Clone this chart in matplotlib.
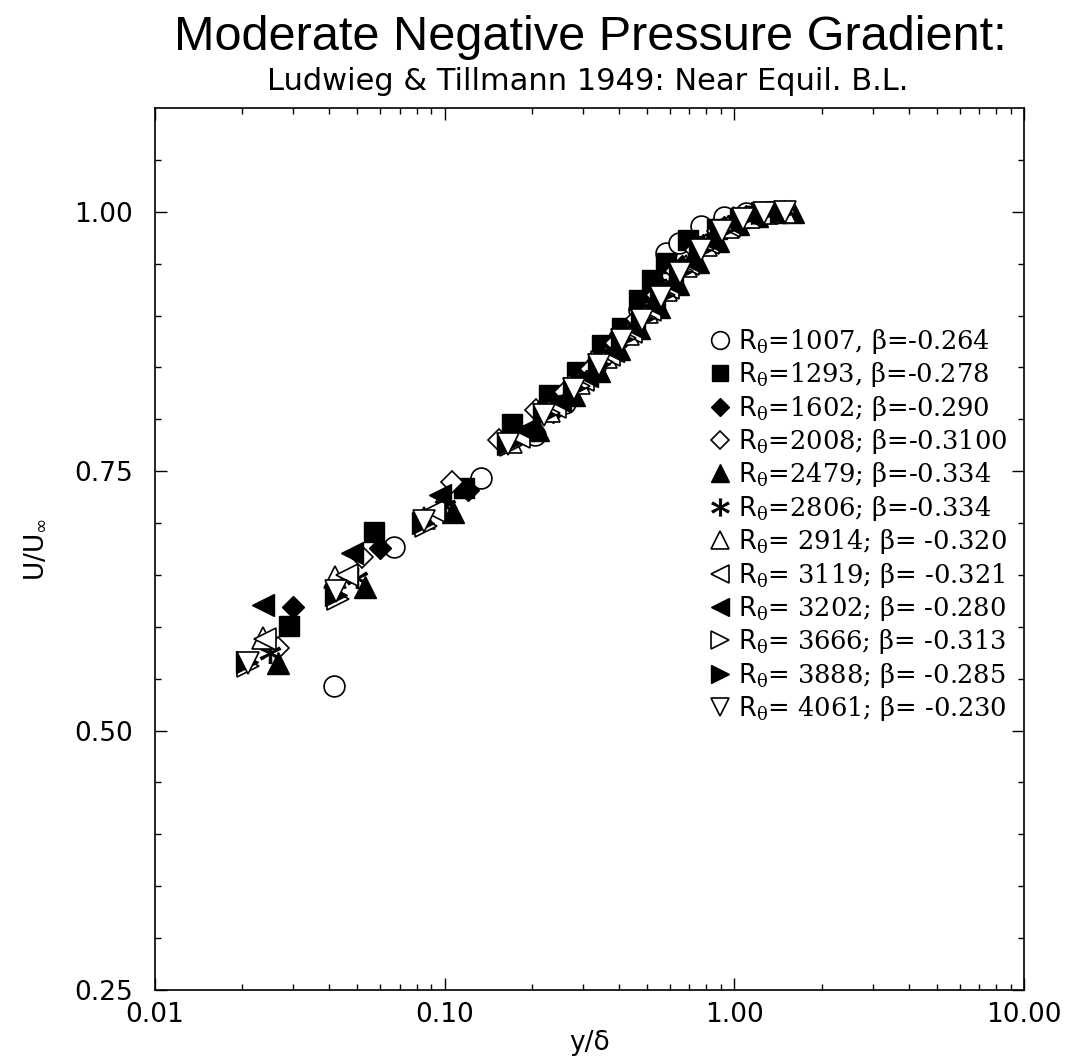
import matplotlib
matplotlib.use("Agg")
import matplotlib.pyplot as plt
from matplotlib.ticker import FixedLocator, LogLocator, NullFormatter, FixedFormatter

plt.rcParams["mathtext.fontset"] = "custom"
plt.rcParams["mathtext.rm"] = "DejaVu Serif"
plt.rcParams["mathtext.it"] = "DejaVu Serif"
plt.rcParams["mathtext.sf"] = "DejaVu Sans"

# Ludwieg & Tillmann (1949) velocity profiles, y/delta vs U/U_inf
labels = [
    r"$\mathsf{R}_{\mathrm{θ}}$=1007, β=-0.264",
    r"$\mathsf{R}_{\mathrm{θ}}$=1293, β=-0.278",
    r"$\mathsf{R}_{\mathrm{θ}}$=1602; β=-0.290",
    r"$\mathsf{R}_{\mathrm{θ}}$=2008; β=-0.3100",
    r"$\mathsf{R}_{\mathrm{θ}}$=2479; β=-0.334",
    r"$\mathsf{R}_{\mathrm{θ}}$=2806; β=-0.334",
    r"$\mathsf{R}_{\mathrm{θ}}$= 2914; β= -0.320",
    r"$\mathsf{R}_{\mathrm{θ}}$= 3119; β= -0.321",
    r"$\mathsf{R}_{\mathrm{θ}}$= 3202; β= -0.280",
    r"$\mathsf{R}_{\mathrm{θ}}$= 3666; β= -0.313",
    r"$\mathsf{R}_{\mathrm{θ}}$= 3888; β= -0.285",
    r"$\mathsf{R}_{\mathrm{θ}}$= 4061; β= -0.230",
]

x_1007 = [0.0415, 0.067, 0.133, 0.205, 0.26, 0.33, 0.40, 0.47, 0.53, 0.58, 0.645, 0.77, 0.92, 1.10, 1.30]
u_1007 = [0.543, 0.677, 0.743, 0.785, 0.816, 0.850, 0.878, 0.905, 0.930, 0.960, 0.970, 0.986, 0.995, 0.999, 1.000]

x_1293 = [0.029, 0.057, 0.117, 0.171, 0.23, 0.287, 0.35, 0.41, 0.47, 0.52, 0.58, 0.69, 0.87, 1.05, 1.25, 1.45]
u_1293 = [0.601, 0.691, 0.734, 0.795, 0.823, 0.846, 0.872, 0.888, 0.915, 0.934, 0.951, 0.973, 0.983, 0.994, 0.999, 1.000]

x_1602 = [0.030, 0.060, 0.120, 0.236, 0.30, 0.36, 0.42, 0.50, 0.57, 0.66, 0.78, 0.92, 1.10, 1.30]
u_1602 = [0.619, 0.676, 0.732, 0.807, 0.838, 0.860, 0.880, 0.904, 0.925, 0.948, 0.968, 0.985, 0.996, 1.000]

x_2008 = [0.0266, 0.052, 0.106, 0.154, 0.207, 0.26, 0.32, 0.39, 0.46, 0.54, 0.63, 0.74, 0.88, 1.05, 1.25, 1.5]
u_2008 = [0.580, 0.667, 0.740, 0.780, 0.809, 0.826, 0.848, 0.874, 0.897, 0.920, 0.943, 0.963, 0.981, 0.993, 0.999, 1.000]

x_2479 = [0.0266, 0.053, 0.107, 0.21, 0.28, 0.34, 0.40, 0.47, 0.55, 0.64, 0.75, 0.88, 1.03, 1.2, 1.4, 1.6]
u_2479 = [0.565, 0.638, 0.711, 0.790, 0.823, 0.847, 0.868, 0.888, 0.908, 0.930, 0.952, 0.972, 0.988, 0.996, 1.000, 1.000]

x_2806 = [0.025, 0.050, 0.100, 0.19, 0.25, 0.31, 0.38, 0.45, 0.52, 0.60, 0.70, 0.82, 0.96, 1.12, 1.30, 1.5]
u_2806 = [0.575, 0.647, 0.716, 0.785, 0.814, 0.838, 0.864, 0.887, 0.906, 0.927, 0.950, 0.970, 0.987, 0.996, 1.000, 1.000]

x_2914 = [0.0236, 0.0418, 0.085, 0.17, 0.23, 0.29, 0.36, 0.43, 0.50, 0.58, 0.68, 0.80, 0.95, 1.12, 1.3, 1.5]
u_2914 = [0.589, 0.648, 0.705, 0.778, 0.808, 0.835, 0.860, 0.882, 0.903, 0.925, 0.948, 0.968, 0.985, 0.995, 0.999, 1.000]

x_3119 = [0.0240, 0.046, 0.092, 0.18, 0.24, 0.30, 0.37, 0.44, 0.51, 0.59, 0.69, 0.81, 0.96, 1.14, 1.35]
u_3119 = [0.588, 0.650, 0.712, 0.783, 0.812, 0.838, 0.862, 0.884, 0.905, 0.927, 0.950, 0.970, 0.986, 0.996, 1.000]

x_3202 = [0.0236, 0.0478, 0.096, 0.19, 0.25, 0.31, 0.38, 0.45, 0.53, 0.61, 0.71, 0.83, 0.98, 1.15, 1.35]
u_3202 = [0.621, 0.671, 0.727, 0.790, 0.818, 0.842, 0.866, 0.888, 0.909, 0.930, 0.952, 0.972, 0.988, 0.997, 1.000]

x_3666 = [0.021, 0.043, 0.086, 0.17, 0.23, 0.29, 0.35, 0.42, 0.49, 0.57, 0.66, 0.78, 0.92, 1.08, 1.28, 1.5]
u_3666 = [0.562, 0.627, 0.697, 0.775, 0.806, 0.832, 0.855, 0.878, 0.898, 0.920, 0.943, 0.964, 0.982, 0.994, 0.999, 1.000]

x_3888 = [0.0207, 0.0423, 0.084, 0.165, 0.22, 0.28, 0.34, 0.41, 0.48, 0.56, 0.65, 0.76, 0.90, 1.06, 1.25, 1.45]
u_3888 = [0.566, 0.631, 0.700, 0.776, 0.805, 0.830, 0.853, 0.877, 0.898, 0.920, 0.942, 0.963, 0.981, 0.993, 0.999, 1.000]

x_4061 = [0.021, 0.042, 0.085, 0.165, 0.22, 0.28, 0.34, 0.41, 0.48, 0.56, 0.65, 0.77, 0.91, 1.07, 1.27, 1.5]
u_4061 = [0.565, 0.635, 0.702, 0.776, 0.804, 0.829, 0.852, 0.876, 0.896, 0.918, 0.941, 0.963, 0.981, 0.993, 0.999, 1.000]

xs = [x_1007, x_1293, x_1602, x_2008, x_2479, x_2806,
      x_2914, x_3119, x_3202, x_3666, x_3888, x_4061]
us = [u_1007, u_1293, u_1602, u_2008, u_2479, u_2806,
      u_2914, u_3119, u_3202, u_3666, u_3888, u_4061]

# marker, filled?, size
styles = [
    ("o", False, 15),
    ("s", True, 14),
    ("D", True, 11),
    ("D", False, 11),
    ("^", True, 16),
    ("*", None, 15),
    ("^", False, 16),
    ("<", False, 16),
    ("<", True, 16),
    (">", False, 16),
    (">", True, 16),
    ("v", False, 16),
]

y_ticks = [0.25, 0.50, 0.75, 1.00]
y_ticklabels = ["0.25", "0.50", "0.75", "1.00"]
x_ticks = [0.01, 0.1, 1.0, 10.0]
x_ticklabels = ["0.01", "0.10", "1.00", "10.00"]

fig = plt.figure(figsize=(10.78, 10.61), dpi=100)
ax = fig.add_axes([155 / 1078, 1 - 990 / 1061, (1024 - 155) / 1078, (990 - 108) / 1061])

handles = []
for x, u, (m, filled, ms), lab in zip(xs, us, styles, labels):
    if m == "*":
        kw = dict(marker=r"$\ast$", markersize=ms, color="black", markeredgewidth=0.6)
    elif filled:
        kw = dict(marker=m, markersize=ms, markerfacecolor="black",
                  markeredgecolor="black", markeredgewidth=1.0)
    else:
        kw = dict(marker=m, markersize=ms, markerfacecolor="white",
                  markeredgecolor="black", markeredgewidth=1.2)
    h, = ax.plot(x, u, linestyle="none", label=lab, **kw)
    handles.append(h)

ax.set_xscale("log")
ax.set_xlim(0.01, 10.0)
ax.set_ylim(0.25, 1.10)

ax.xaxis.set_major_locator(FixedLocator(x_ticks))
ax.xaxis.set_major_formatter(FixedFormatter(x_ticklabels))
ax.xaxis.set_minor_locator(LogLocator(base=10, subs=range(2, 10)))
ax.xaxis.set_minor_formatter(NullFormatter())
ax.yaxis.set_major_locator(FixedLocator(y_ticks))
ax.yaxis.set_major_formatter(FixedFormatter(y_ticklabels))
ax.yaxis.set_minor_locator(FixedLocator([0.30, 0.35, 0.40, 0.45, 0.55, 0.60, 0.65, 0.70,
                                         0.80, 0.85, 0.90, 0.95, 1.05]))

ax.tick_params(which="both", direction="in", top=True, right=True, width=1.0)
ax.tick_params(which="major", length=8.5)
ax.tick_params(which="minor", length=4.5)
ax.tick_params(axis="y", which="major", pad=16)
ax.tick_params(axis="x", which="major", pad=9)
for lab in ax.get_xticklabels() + ax.get_yticklabels():
    lab.set_fontfamily("DejaVu Sans")
    lab.set_fontsize(19)
for sp in ax.spines.values():
    sp.set_linewidth(1.2)

ax.set_xlabel("y/δ", fontsize=19, fontfamily="DejaVu Sans", labelpad=1)
ax.set_ylabel(r"U/U$_{\mathsf{∞}}$", fontsize=19, fontfamily="DejaVu Sans", labelpad=18)

fig.text(590 / 1078, 1 - 38 / 1061, "Moderate Negative Pressure Gradient:",
         ha="center", va="center", fontsize=35, fontfamily="Liberation Sans")
fig.text(588 / 1078, 1 - 81 / 1061, "Ludwieg & Tillmann 1949: Near Equil. B.L.",
         ha="center", va="center", fontsize=22, fontfamily="DejaVu Sans")

leg = ax.legend(handles=handles, loc="upper left",
                bbox_to_anchor=((708 - 155) / (1024 - 155), (990 - 327) / (990 - 108)),
                frameon=False, prop={"family": "DejaVu Serif", "size": 18.5},
                handlelength=0.9, handletextpad=0.25, labelspacing=0.17,
                borderaxespad=0, borderpad=0, markerscale=0.85)

fig.savefig("out.png", dpi=100)
